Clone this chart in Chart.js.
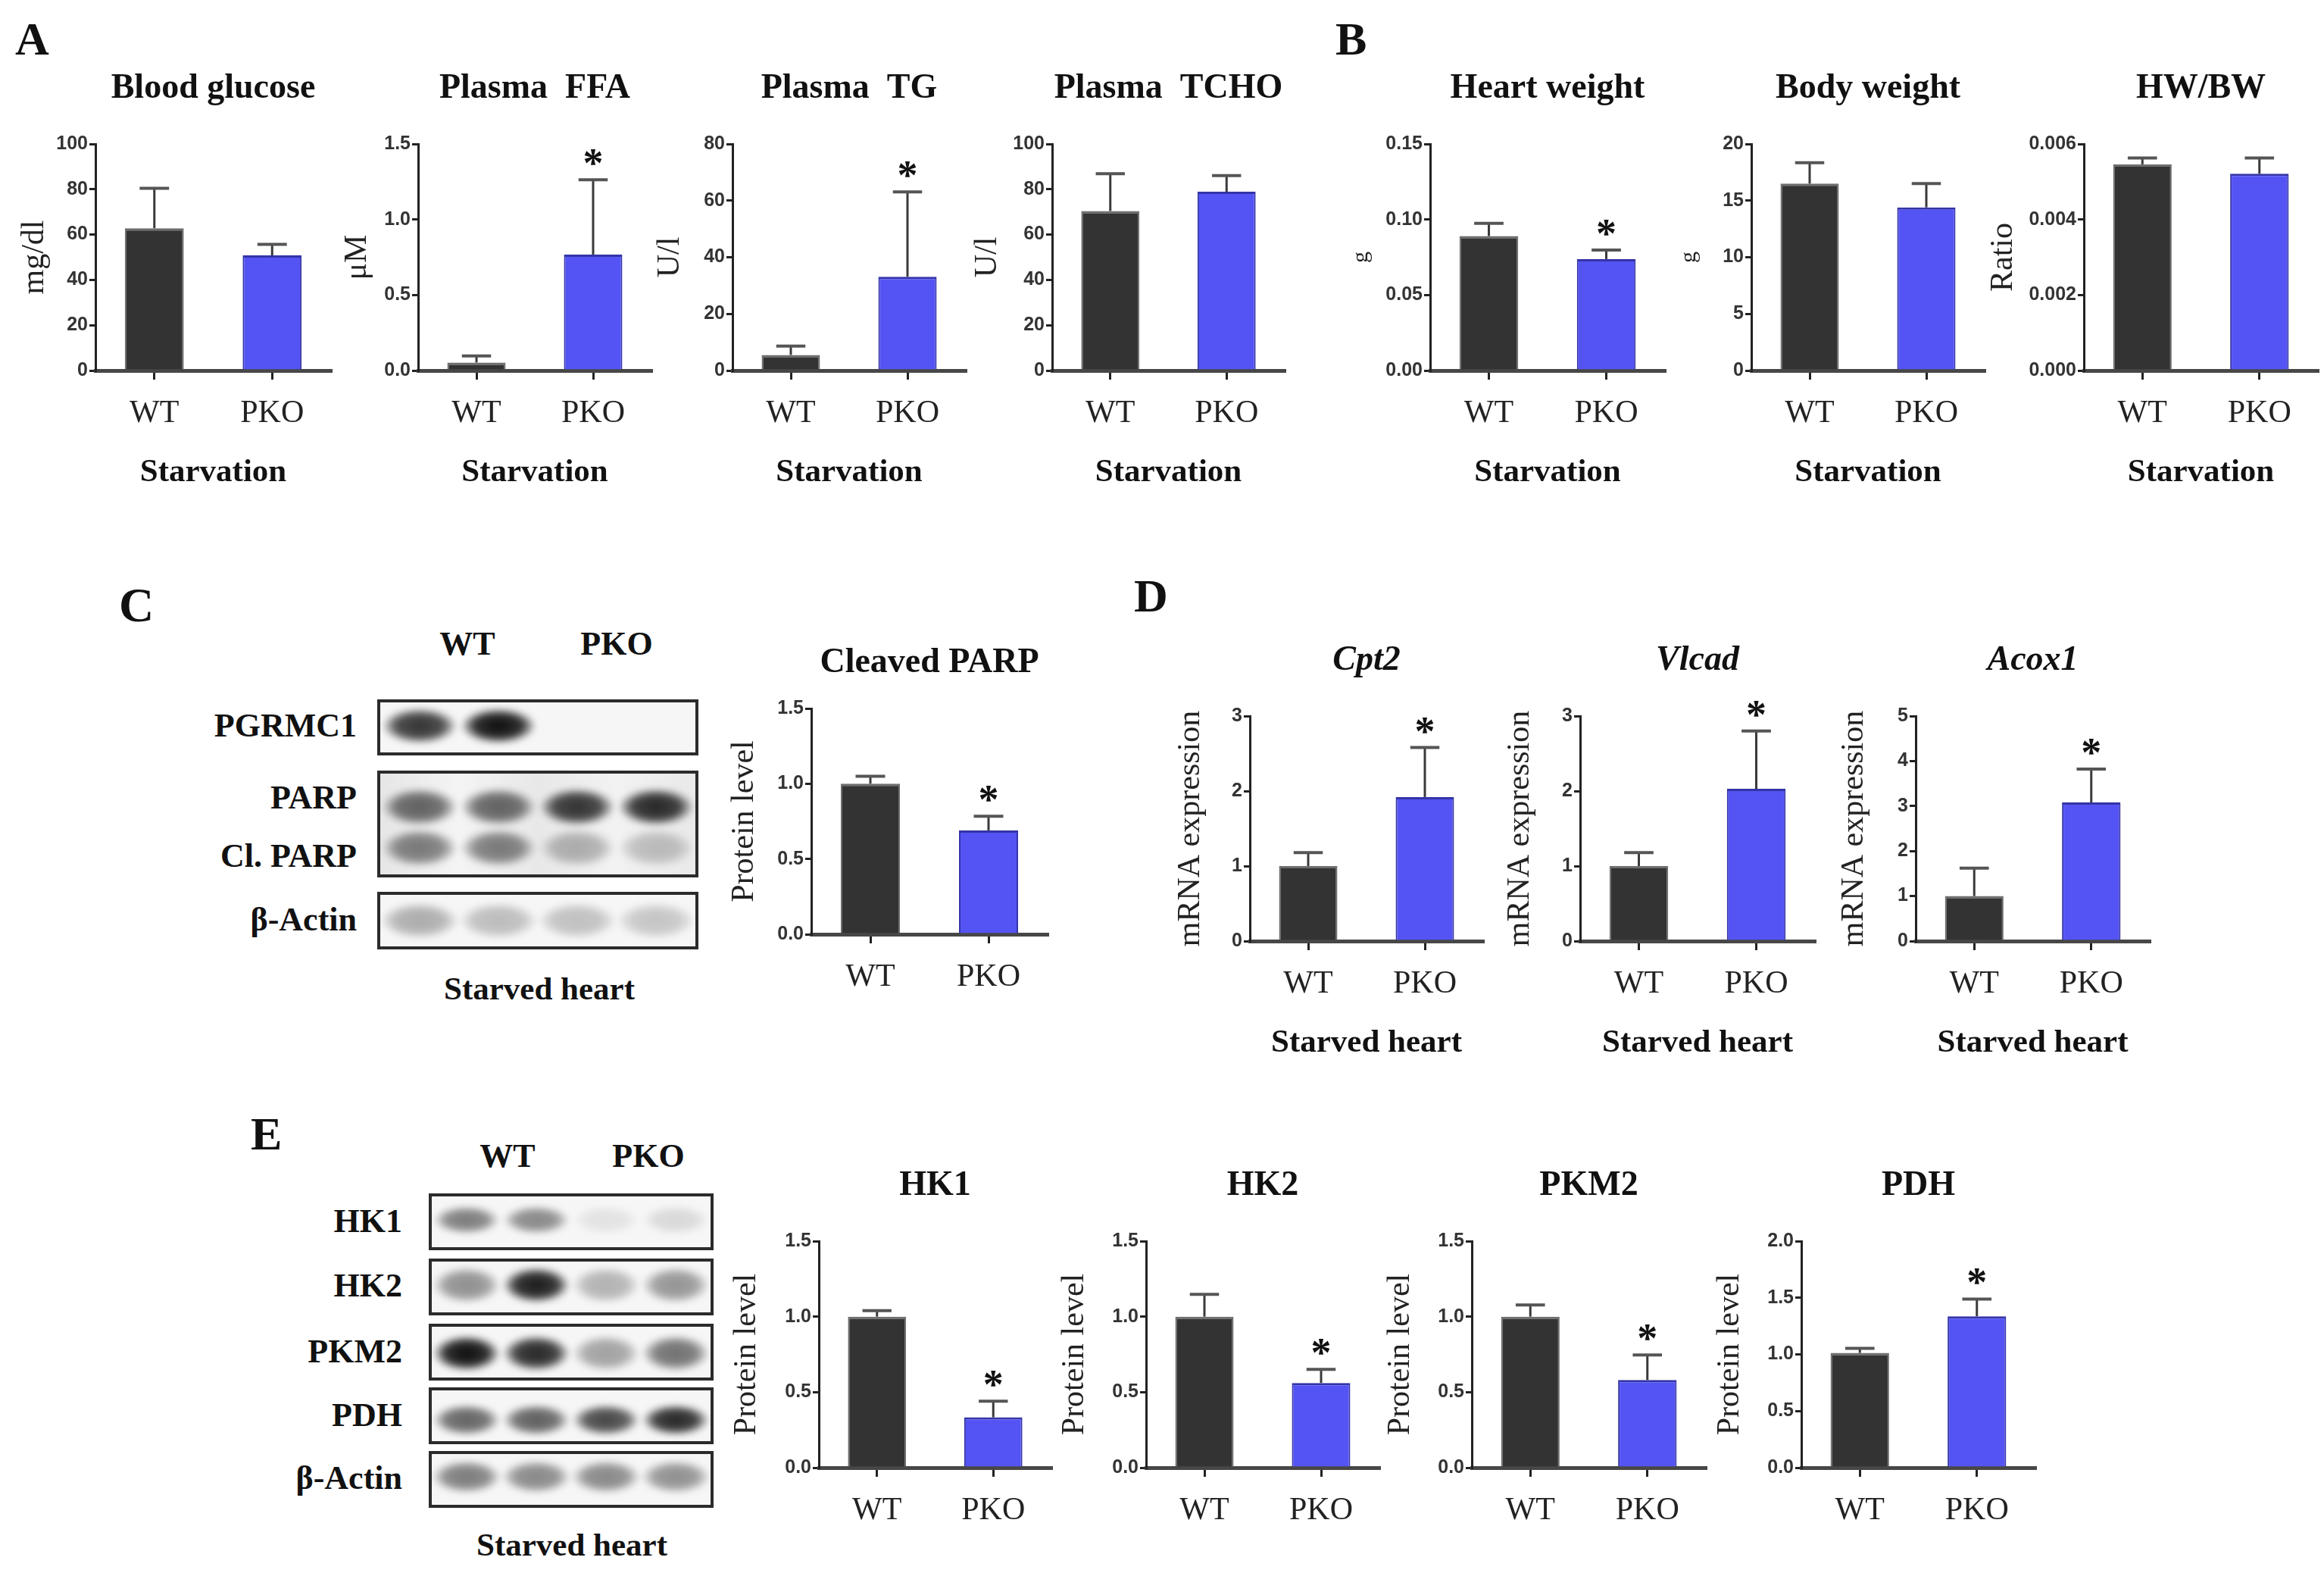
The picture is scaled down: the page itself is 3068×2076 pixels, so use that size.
<!DOCTYPE html>
<html>
<head>
<meta charset="utf-8">
<script src="https://cdn.jsdelivr.net/npm/chart.js@4.4.1/dist/chart.umd.min.js"></script>
<style>
  html, body { margin: 0; padding: 0; background: #fff; overflow: hidden; }
  #page { position: relative; width: 3068px; height: 2076px; background: #fff; }
  canvas { position: absolute; }
  .txt { position: absolute; line-height: 0; height: 0; white-space: nowrap; font-family: "Liberation Serif", "Times New Roman", serif; color: #111; }
  .blot { position: absolute; box-sizing: border-box; border: 4px solid #2b2b2b; background: #f6f6f6; overflow: hidden; }
  .band { position: absolute; border-radius: 50%; filter: blur(4px); }
</style>
</head>
<body>
<div id="page"></div>
<script>
// ---- data ----
const groups = ['WT', 'PKO'];

// A: plasma parameters after starvation
const glucoseMean = [62.8, 50.8];   const glucoseSem = [17.6, 4.9];
const ffaMean = [0.053, 0.768];     const ffaSem = [0.043, 0.495];
const tgMean = [5.5, 33.1];         const tgSem = [3.1, 30.0];
const tchoMean = [70.4, 78.9];      const tchoSem = [16.5, 7.1];

// B: weights
const heartMean = [0.089, 0.0738];  const heartSem = [0.0085, 0.0060];
const bodyMean = [16.5, 14.4];      const bodySem = [1.85, 2.1];
const ratioMean = [0.00546, 0.00521]; const ratioSem = [0.00017, 0.00042];

// C: cleaved PARP
const parpMean = [1.0, 0.69];       const parpSem = [0.05, 0.094];

// D: mRNA
const cpt2Mean = [1.0, 1.92];       const cpt2Sem = [0.18, 0.66];
const vlcadMean = [1.0, 2.03];      const vlcadSem = [0.18, 0.77];
const acox1Mean = [1.0, 3.08];      const acox1Sem = [0.62, 0.74];

// E: glycolytic proteins
const hk1Mean = [1.0, 0.333];       const hk1Sem = [0.04, 0.107];
const hk2Mean = [1.0, 0.561];       const hk2Sem = [0.147, 0.09];
const pkm2Mean = [1.0, 0.581];      const pkm2Sem = [0.077, 0.165];
const pdhMean = [1.013, 1.336];     const pdhSem = [0.04, 0.153];

// significance marks per group
const starNone = [false, false];
const starPko = [false, true];

// blot band darkness per lane (WT, WT, PKO, PKO)
const bandPgrmc1 = [0.8, 0.95, 0, 0];
const bandParp = [0.6, 0.6, 0.8, 0.85];
const bandClParp = [0.5, 0.5, 0.28, 0.22];
const bandActinC = [0.3, 0.24, 0.22, 0.2];
const bandHk1 = [0.5, 0.45, 0.08, 0.12];
const bandHk2 = [0.42, 0.9, 0.28, 0.4];
const bandPkm2 = [0.95, 0.85, 0.35, 0.55];
const bandPdh = [0.6, 0.62, 0.72, 0.85];
const bandActinE = [0.5, 0.45, 0.45, 0.42];

const SERIF = '"Liberation Serif", "Times New Roman", serif';
const SANS = '"Liberation Sans", Arial, sans-serif';
const page = document.getElementById('page');

// text helper, y is the baseline
function label(text, x, y, size, opts) {
  opts = opts || {};
  const d = document.createElement('div');
  d.className = 'txt';
  d.textContent = text;
  d.style.fontSize = size + 'px';
  d.style.fontWeight = opts.bold === false ? 'normal' : 'bold';
  if (opts.italic) d.style.fontStyle = 'italic';
  d.style.left = x + 'px';
  d.style.top = (y - 0.3375 * size) + 'px';
  if (opts.align === 'center') d.style.transform = 'translateX(-50%)';
  if (opts.align === 'right') d.style.transform = 'translateX(-100%)';
  page.appendChild(d);
}

// error bars + significance stars
const errorBars = {
  id: 'errorBars',
  afterDatasetsDraw(chart, args, opts) {
    const ds = chart.data.datasets[0];
    const meta = chart.getDatasetMeta(0);
    const y = chart.scales.y;
    const ctx = chart.ctx;
    ctx.save();
    meta.data.forEach((bar, i) => {
      const top = y.getPixelForValue(ds.data[i] + opts.sem[i]);
      const half = bar.width / 4;
      ctx.strokeStyle = '#3a3a3a';
      ctx.lineWidth = 3;
      ctx.beginPath();
      ctx.moveTo(bar.x, bar.y);
      ctx.lineTo(bar.x, top);
      ctx.stroke();
      ctx.strokeStyle = '#555';
      ctx.lineWidth = 4;
      ctx.beginPath();
      ctx.moveTo(bar.x - half, top);
      ctx.lineTo(bar.x + half, top);
      ctx.stroke();
      if (opts.stars[i]) {
        ctx.fillStyle = '#111';
        ctx.font = 'bold 54px ' + SERIF;
        ctx.textAlign = 'center';
        ctx.textBaseline = 'alphabetic';
        ctx.fillText('*', bar.x, top - 4);
      }
    });
    ctx.restore();
  }
};

// panel title centred over the plot area
const panelTitle = {
  id: 'panelTitle',
  afterDraw(chart, args, opts) {
    const { ctx, chartArea } = chart;
    ctx.save();
    ctx.font = (opts.italic ? 'italic ' : '') + 'bold 46px ' + SERIF;
    ctx.fillStyle = '#111';
    ctx.textAlign = 'center';
    ctx.textBaseline = 'alphabetic';
    ctx.fillText(opts.text, (chartArea.left + chartArea.right) / 2, chartArea.top - opts.gap);
    ctx.restore();
  }
};

const Y_W = 130, PAD_TOP = 110, PAD_R = 20, X_H = 170;

function barChart(c) {
  const cv = document.createElement('canvas');
  const w = (c.right - c.left) + Y_W + PAD_R;
  const h = (c.bottom - c.top) + PAD_TOP + X_H;
  cv.width = w; cv.height = h;
  cv.style.left = (c.left - Y_W) + 'px';
  cv.style.top = (c.top - PAD_TOP) + 'px';
  cv.style.width = w + 'px'; cv.style.height = h + 'px';
  page.appendChild(cv);
  const yts = c.yTitleSize || 42;
  new Chart(cv.getContext('2d'), {
    type: 'bar',
    data: {
      labels: groups,
      datasets: [{
        data: c.mean,
        backgroundColor: ['#333333', '#5454f4'],
        borderColor: ['#6e6e6e', '#3434a8'],
        borderWidth: { top: 3, left: 2, right: 2, bottom: 0 },
        borderSkipped: 'bottom',
        barPercentage: 1,
        categoryPercentage: 0.5
      }]
    },
    options: {
      responsive: false,
      animation: false,
      devicePixelRatio: 1,
      layout: { padding: { top: PAD_TOP, right: PAD_R, left: 0, bottom: 0 } },
      plugins: {
        legend: { display: false },
        tooltip: { enabled: false },
        title: { display: false },
        panelTitle: { text: c.title, italic: c.italic, gap: c.titleGap || 61 },
        errorBars: { sem: c.sem, stars: c.stars }
      },
      scales: {
        x: {
          grid: { display: true, drawOnChartArea: false, offset: false, tickLength: 12, color: '#222', lineWidth: 3 },
          border: { display: true, color: '#474747', width: 5 },
          ticks: { autoSkip: false, padding: 20, color: '#222', font: { family: SERIF, size: 42 } },
          title: { display: true, text: c.xTitle, color: '#111', font: { family: SERIF, size: 43, weight: 'bold' }, padding: { top: 0, bottom: 9 } },
          afterFit: s => { s.height = X_H; }
        },
        y: {
          min: 0,
          max: c.max,
          grid: { display: true, drawOnChartArea: false, tickLength: 8, color: '#222', lineWidth: 3 },
          border: { display: true, color: '#222', width: 3 },
          ticks: { stepSize: c.step, padding: 2, color: '#333', font: { family: SANS, size: 25, weight: 'bold' },
                   callback: v => Number(v).toFixed(c.dec) },
          title: { display: true, text: c.yTitle, color: '#222', font: { family: SERIF, size: yts },
                   padding: { top: Y_W - c.yOff - yts * 0.6, bottom: 0 } },
          afterFit: s => { s.width = Y_W; }
        }
      }
    },
    plugins: [errorBars, panelTitle]
  });
}

const charts = [
  // A
  { left: 126, right: 437, top: 190, bottom: 489, title: 'Blood glucose', yTitle: 'mg/dl', yOff: 80, xTitle: 'Starvation',
    max: 100, step: 20, dec: 0, mean: glucoseMean, sem: glucoseSem, stars: starNone },
  { left: 552, right: 860, top: 190, bottom: 489, title: 'Plasma  FFA', yTitle: 'μM', yOff: 80, xTitle: 'Starvation',
    max: 1.5, step: 0.5, dec: 1, mean: ffaMean, sem: ffaSem, stars: starPko },
  { left: 967, right: 1275, top: 190, bottom: 489, title: 'Plasma  TG', yTitle: 'U/l', yOff: 82, xTitle: 'Starvation',
    max: 80, step: 20, dec: 0, mean: tgMean, sem: tgSem, stars: starPko },
  { left: 1389, right: 1696, top: 190, bottom: 489, title: 'Plasma  TCHO', yTitle: 'U/l', yOff: 85, xTitle: 'Starvation',
    max: 100, step: 20, dec: 0, mean: tchoMean, sem: tchoSem, stars: starNone },
  // B
  { left: 1888, right: 2198, top: 190, bottom: 489, title: 'Heart weight', yTitle: 'g', yTitleSize: 30, yOff: 91, xTitle: 'Starvation',
    max: 0.15, step: 0.05, dec: 2, mean: heartMean, sem: heartSem, stars: starPko },
  { left: 2312, right: 2620, top: 190, bottom: 489, title: 'Body weight', yTitle: 'g', yTitleSize: 30, yOff: 82, xTitle: 'Starvation',
    max: 20, step: 5, dec: 0, mean: bodyMean, sem: bodySem, stars: starNone },
  { left: 2751, right: 3060, top: 190, bottom: 489, title: 'HW/BW', yTitle: 'Ratio', yOff: 106, xTitle: 'Starvation',
    max: 0.006, step: 0.002, dec: 3, mean: ratioMean, sem: ratioSem, stars: starNone },
  // C
  { left: 1071, right: 1383, top: 935, bottom: 1233, title: 'Cleaved PARP', titleGap: 48, yTitle: 'Protein level', yOff: 88, xTitle: '',
    max: 1.5, step: 0.5, dec: 1, mean: parpMean, sem: parpSem, stars: starPko },
  // D
  { left: 1650, right: 1958, top: 945, bottom: 1242, title: 'Cpt2', italic: true, yTitle: 'mRNA expression', yOff: 78, xTitle: 'Starved heart',
    max: 3, step: 1, dec: 0, mean: cpt2Mean, sem: cpt2Sem, stars: starPko },
  { left: 2086, right: 2396, top: 945, bottom: 1242, title: 'Vlcad', italic: true, yTitle: 'mRNA expression', yOff: 79, xTitle: 'Starved heart',
    max: 3, step: 1, dec: 0, mean: vlcadMean, sem: vlcadSem, stars: starPko },
  { left: 2529, right: 2838, top: 945, bottom: 1242, title: 'Acox1', italic: true, yTitle: 'mRNA expression', yOff: 81, xTitle: 'Starved heart',
    max: 5, step: 1, dec: 0, mean: acox1Mean, sem: acox1Sem, stars: starPko },
  // E
  { left: 1081, right: 1388, top: 1638, bottom: 1937, title: 'HK1', yTitle: 'Protein level', yOff: 95, xTitle: '',
    max: 1.5, step: 0.5, dec: 1, mean: hk1Mean, sem: hk1Sem, stars: starPko },
  { left: 1513, right: 1821, top: 1638, bottom: 1937, title: 'HK2', yTitle: 'Protein level', yOff: 94, xTitle: '',
    max: 1.5, step: 0.5, dec: 1, mean: hk2Mean, sem: hk2Sem, stars: starPko },
  { left: 1943, right: 2252, top: 1638, bottom: 1937, title: 'PKM2', yTitle: 'Protein level', yOff: 94, xTitle: '',
    max: 1.5, step: 0.5, dec: 1, mean: pkm2Mean, sem: pkm2Sem, stars: starPko },
  { left: 2378, right: 2687, top: 1638, bottom: 1937, title: 'PDH', yTitle: 'Protein level', yOff: 94, xTitle: '',
    max: 2.0, step: 0.5, dec: 1, mean: pdhMean, sem: pdhSem, stars: starPko }
];
charts.forEach(barChart);

// western blots
function blot(x, y, w, h, bandRows, bandW, bandH, tone) {
  const b = document.createElement('div');
  b.className = 'blot';
  b.style.left = x + 'px'; b.style.top = y + 'px';
  b.style.width = w + 'px'; b.style.height = h + 'px';
  if (tone) b.style.background = tone;
  page.appendChild(b);
  bandRows.forEach(row => {
    row.dark.forEach((d, i) => {
      if (d <= 0) return;
      const band = document.createElement('div');
      band.className = 'band';
      const cx = (w - 8) * (i + 0.5) / row.dark.length;
      const cy = (h - 8) * row.pos;
      band.style.left = (cx - bandW / 2) + 'px';
      band.style.top = (cy - bandH / 2) + 'px';
      band.style.width = bandW + 'px';
      band.style.height = bandH + 'px';
      band.style.background = 'radial-gradient(ellipse at center, rgba(0,0,0,' + d + ') 0%, rgba(0,0,0,' + (d * 0.85) + ') 45%, rgba(0,0,0,0) 75%)';
      b.appendChild(band);
    });
  });
}

// C blots
blot(498, 923, 424, 74, [{ dark: bandPgrmc1, pos: 0.47 }], 96, 46);
blot(498, 1017, 424, 141, [{ dark: bandParp, pos: 0.33 }, { dark: bandClParp, pos: 0.74 }], 96, 48,
     'linear-gradient(to right, #e6e6e6, #f4f4f4 25%, #e8e8e8 50%, #f2f2f2 75%, #e9e9e9)');
blot(498, 1177, 424, 76, [{ dark: bandActinC, pos: 0.5 }], 100, 46);
label('WT', 617, 865, 44, { align: 'center' });
label('PKO', 814, 865, 44, { align: 'center' });
label('PGRMC1', 471, 973, 44, { align: 'right' });
label('PARP', 471, 1068, 44, { align: 'right' });
label('Cl. PARP', 471, 1145, 44, { align: 'right' });
label('β-Actin', 471, 1229, 44, { align: 'right' });
label('Starved heart', 712, 1320, 43, { align: 'center' });

// E blots
blot(566, 1575, 376, 75, [{ dark: bandHk1, pos: 0.47 }], 84, 36);
blot(566, 1661, 376, 75, [{ dark: bandHk2, pos: 0.47 }], 86, 46);
blot(566, 1747, 376, 75, [{ dark: bandPkm2, pos: 0.52 }], 86, 46);
blot(566, 1831, 376, 75, [{ dark: bandPdh, pos: 0.58 }], 86, 40);
blot(566, 1915, 376, 75, [{ dark: bandActinE, pos: 0.45 }], 88, 42);
label('WT', 670, 1541, 44, { align: 'center' });
label('PKO', 856, 1541, 44, { align: 'center' });
label('HK1', 531, 1627, 44, { align: 'right' });
label('HK2', 531, 1712, 44, { align: 'right' });
label('PKM2', 531, 1799, 44, { align: 'right' });
label('PDH', 531, 1883, 44, { align: 'right' });
label('β-Actin', 531, 1966, 44, { align: 'right' });
label('Starved heart', 755, 2054, 43, { align: 'center' });

// panel letters
label('A', 20, 72, 62);
label('B', 1763, 72, 62);
label('C', 157, 821, 64);
label('D', 1497, 807, 62);
label('E', 331, 1517, 62);
</script>
</body>
</html>
